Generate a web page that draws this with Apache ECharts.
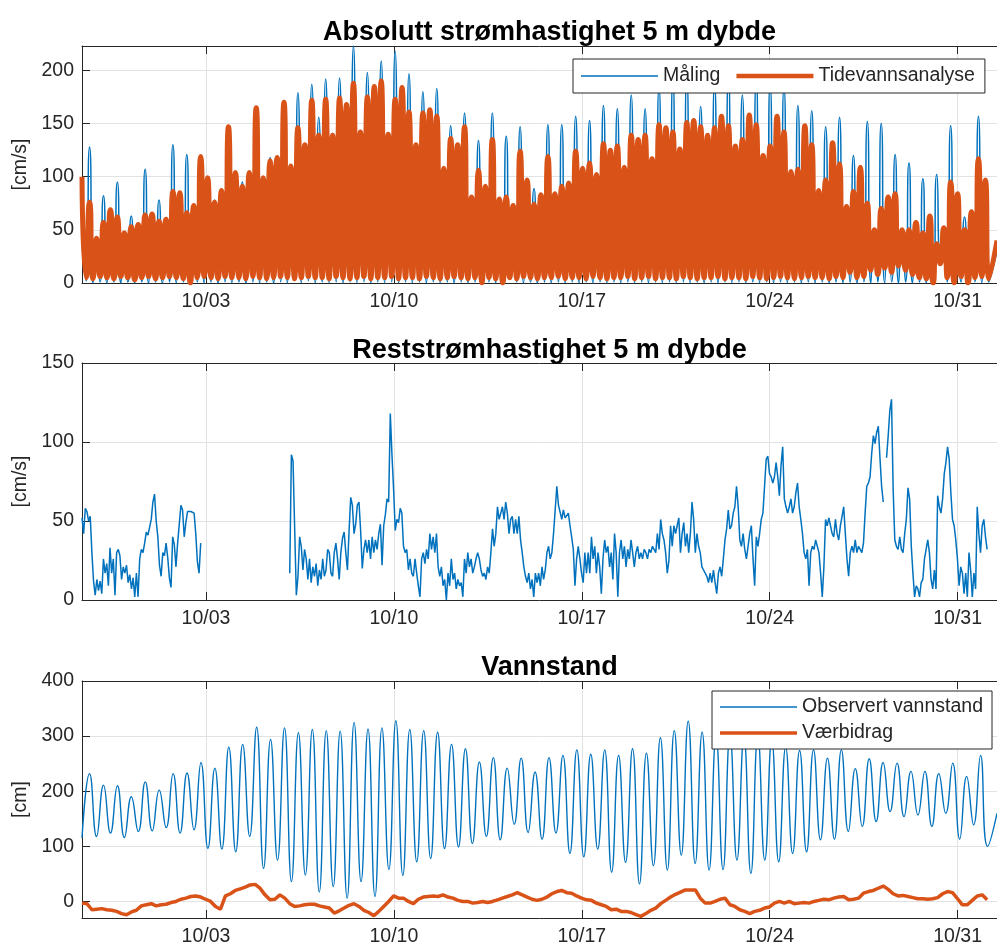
<!DOCTYPE html>
<html>
<head>
<meta charset="utf-8">
<script src="https://cdn.jsdelivr.net/npm/echarts@6/dist/echarts.min.js"></script>
<style>
  html, body { margin: 0; padding: 0; background: #ffffff; }
  #chart { width: 997px; height: 949px; }
</style>
</head>
<body>
<div id="chart"></div>
<script>
// ---------------------------------------------------------------------------
// Time base: first sample and the span of the record (hours)
// ---------------------------------------------------------------------------
const START = Date.UTC(2023, 8, 28, 9, 10);
const HOUR = 3600e3;
const SPAN_H = 818;

// Date ticks (weekly) shown on every panel
const tickDates = ['2023-10-03', '2023-10-10', '2023-10-17', '2023-10-24', '2023-10-31'];

// ---------------------------------------------------------------------------
// Panel 1: absolute current speed at 5 m, cm/s
// Semi-diurnal speed maxima (one value per flood/ebb maximum) and the slack minima
// ---------------------------------------------------------------------------
const speedPeakFirstH = 6.78;   // time of first maximum after start
const speedPeakStepH = 6.208;   // spacing of successive maxima

const tideStart = 100;
const tidePeaks = [
  76, 42, 57, 69, 62, 47, 53, 55, 64, 65,
  58, 60, 86, 85, 66, 73, 119, 99, 76, 87,
  147, 104, 91, 104, 165, 99, 115, 118, 170, 110,
  146, 130, 172, 139, 173, 139, 174, 168, 188, 142,
  175, 185, 190, 140, 173, 184, 161, 130, 160, 163,
  157, 108, 136, 130, 147, 81, 106, 91, 135, 79,
  81, 73, 124, 97, 74, 83, 119, 84, 91, 94,
  124, 108, 113, 102, 131, 125, 129, 109, 139, 135,
  139, 117, 149, 146, 142, 126, 151, 153, 147, 139,
  146, 157, 148, 129, 135, 158, 149, 120, 129, 157,
  142, 105, 107, 148, 130, 87, 97, 132, 112, 72,
  86, 109, 75, 50, 70, 81, 84, 50, 50, 57,
  47, 63, 37, 52, 95, 84, 50, 67, 117, 97
];
const tideLows = [
  5, 4, 6, 5, 4, 6, 5, 3, 5, 6,
  4, 5, 6, 5, 4, 0, 5, 6, 5, 4,
  6, 5, 5, 4, 6, 5, 4, 5, 6, 5,
  4, 5, 6, 5, 5, 4, 6, 5, 4, 5,
  6, 4, 5, 5, 6, 4, 5, 5, 4, 6,
  5, 4, 5, 6, 5, 4, 5, 0, 5, 4,
  0, 5, 4, 6, 5, 4, 5, 5, 6, 4,
  5, 5, 4, 6, 5, 4, 5, 5, 6, 4,
  5, 6, 4, 5, 5, 4, 6, 5, 4, 5,
  5, 6, 4, 5, 5, 4, 6, 5, 4, 5,
  6, 5, 4, 5, 6, 5, 5, 4, 6, 5,
  10, 5, 6, 12, 8, 14, 10, 16, 12, 8,
  5, 4, 0, 18, 5, 0, 6, 0, 5, 6,
  4
];
const tideEnd = 40;

const measStart = 45;
const measPeaks = [
  128, 40, 82, 60, 95, 42, 63, 50, 107, 58,
  78, 55, 130, 75, 121, 65, 118, 90, 78, 80,
  146, 95, 95, 95, 166, 92, 118, 108, 172, 100,
  179, 120, 187, 156, 192, 141, 193, 160, 223, 135,
  198, 175, 209, 132, 218, 175, 197, 122, 180, 155,
  183, 100, 148, 122, 160, 75, 134, 85, 160, 72,
  138, 68, 147, 90, 89, 76, 149, 78, 149, 86,
  157, 100, 153, 95, 167, 115, 164, 100, 177, 125,
  164, 108, 185, 136, 192, 118, 195, 142, 166, 130,
  188, 147, 195, 120, 177, 148, 192, 112, 188, 147,
  185, 98, 167, 138, 162, 80, 147, 122, 156, 66,
  120, 100, 152, 46, 150, 74, 121, 45, 113, 52,
  98, 58, 102, 47, 148, 78, 62, 62, 157, 90
];
const measLows = [
  2, 0, 1, 0, 1, 0, 1, 0, 1, 0,
  1, 0, 1, 0, 1, 0, 1, 0, 1, 0,
  1, 0, 1, 0, 1, 0, 1, 0, 1, 0,
  18, 0, 2, 0, 1, 0, 1, 0, 1, 0,
  1, 0, 1, 0, 1, 0, 1, 0, 1, 0,
  1, 0, 1, 0, 1, 0, 1, 0, 1, 0,
  25, 28, 1, 0, 1, 0, 1, 0, 1, 0,
  1, 0, 1, 0, 1, 0, 1, 0, 1, 0,
  1, 0, 1, 0, 1, 0, 1, 0, 1, 0,
  1, 0, 1, 0, 1, 0, 1, 0, 1, 0,
  1, 0, 1, 0, 1, 0, 1, 0, 1, 0,
  1, 0, 1, 0, 1, 0, 1, 0, 1, 0,
  1, 0, 1, 28, 1, 0, 1, 0, 1, 0,
  1
];
const measEnd = 30;

// ---------------------------------------------------------------------------
// Panel 2: residual current speed at 5 m, cm/s (sampled every 1.474 h, null = no data)
// ---------------------------------------------------------------------------
const residualStepH = 1.4739;
const residual = [
  52, 42, 58, 56, 50, 53, 30, 12, 3, 13,
  6, 12, 4, 26, 17, 23, 9, 33, 17, 26,
  3, 30, 32, 28, 13, 21, 17, 22, 11, 16,
  7, 14, 2, 17, 2, 26, 32, 30, 36, 43,
  41, 42, 51, 62, 67, 50, 40, 22, 15, 30,
  28, 36, 27, 14, 8, 40, 35, 21, 36, 48,
  60, 57, 40, 49, 56, 57, 56, 57, 55, 42,
  24, 17, 36,
  null, null, null, null, null, null, null, null, null, null,
  null, null, null, null, null, null, null, null, null, null,
  null, null, null, null, null, null, null, null, null, null,
  null, null, null, null, null, null, null, null, null, null,
  null, null, null, null, null, null, null, null, null, null,
  null, null, null,
  17, 92, 88, 45, 3, 15, 40, 34, 19, 32,
  26, 13, 26, 11, 21, 15, 23, 9, 19, 13,
  26, 15, 19, 32, 30, 17, 15, 30, 36,
  26, 13, 30, 39, 43, 30, 19, 44, 65, 60,
  42, 48, 60, 62, 44, 20, 32, 38, 30, 38,
  26, 40, 30, 38, 32, 42, 48, 22, 47, 54,
  64, 62, 118, 92, 70, 44, 51, 49, 58, 55,
  34, 30, 32, 19, 26, 17, 15, 26, 17, 9,
  2, 26, 30, 23, 32, 26, 42, 32, 40, 30,
  42, 21, 15, 21, 9, 13, 0, 17, 9, 26,
  13, 17, 7, 13, 9, 11, 2, 26, 17, 30,
  21, 26, 17, 21, 26, 30, 26, 19, 15, 17,
  13, 21, 17, 30, 45, 34, 42, 59, 51, 55,
  59, 51, 62, 55, 42, 51, 53, 42, 51, 42,
  53, 38, 30, 21, 15, 11, 17, 7, 13, 2,
  17, 11, 17, 9, 21, 13, 19, 30, 34, 26,
  30, 42, 57, 72, 60, 59, 51, 57, 52, 51,
  55, 47, 40, 32, 9, 26, 34, 26, 17, 11,
  30, 17, 30, 17, 40, 26, 34, 17, 30, 21,
  4, 26, 38, 30, 34, 21, 30, 13, 42, 30,
  2, 30, 38, 26, 34, 21, 32, 26, 38, 30,
  21, 30, 34, 26, 30, 26, 32, 30, 26, 32,
  30, 34,
  34, 30, 42, 32, 51, 42, 38, 30, 17, 25,
  47, 34, 47, 42, 47, 52, 30, 42, 49, 34,
  42, 30, 42, 62, 51, 30, 42, 34, 30, 21,
  19, 17, 15, 11, 17, 11, 19, 11, 4, 17,
  21, 15, 26, 38, 45, 57, 45, 47, 55, 59,
  72, 59, 38, 34, 42, 32, 26, 34, 42, 47,
  26, 9, 40, 34, 42, 51, 55, 72, 89, 91,
  80, 78, 74, 78, 87, 78, 66, 85, 97, 64,
  59, 55, 59, 64, 55, 59, 68, 74, 59, 51,
  42, 30, 26, 32, 9, 30, 34, 32, 38, 34,
  30, 17, 2, 21, 51, 47, 52, 51, 42, 40,
  51, 42, 38, 47, 53, 59, 42, 26, 15, 30,
  34, 30, 38, 30, 34, 32, 30, 36, 55, 72,
  74, 78, 93, 104, 99, 106, 110, 90, 72, 62,
  null, 90, 104, 120, 127, 70, 38, 34, 32, 40,
  32, 30, 42, 51, 71, 64, 34, 17, 2, 9,
  7, 2, 11, 13, 26, 32, 38, 30, 13, 7,
  19, 7, 66, 59, 55, 64, 80, 87, 97, 89,
  68, 51, 47, 38, 26, 9, 21, 17, 4, 17,
  2, 30, 19, 2, 17, 7, 59, 42, 30, 47,
  51, 40, 32
];

// ---------------------------------------------------------------------------
// Panel 3: observed water level (high/low waters) and weather contribution, cm
// ---------------------------------------------------------------------------
const waterFirstHighH = 6.78;
const waterStepH = 12.446;
const waterStart = 115;
const waterHighs = [
  232, 211, 210, 190, 217, 202, 232, 233, 252, 242,
  280, 285, 316, 294, 315, 306, 312, 310, 309, 325,
  313, 315, 328, 312, 310, 307, 285, 277, 253, 261,
  242, 260, 235, 261, 265, 275, 267, 275, 265, 277,
  269, 297, 310, 327, 307, 300, 302, 298, 300, 292,
  280, 274, 275, 260, 275, 241, 259, 252, 251, 236,
  236, 232, 251, 227, 265
];
const waterLows = [
  118, 124, 116, 127, 128, 134, 124, 130, 96, 95,
  90, 118, 60, 75, 36, 48, 17, 27, 6, 36,
  9, 58, 47, 72, 78, 96, 99, 105, 118, 112,
  140, 125, 113, 124, 87, 81, 95, 53, 71, 32,
  65, 57, 84, 69, 57, 58, 75, 51, 75, 72,
  87, 90, 112, 113, 127, 136, 145, 163, 154, 157,
  136, 160, 113, 139, 100
];
const waterEnd = 160;

const weatherStepH = 4.4217;
const weather = [
  -3, -4, -15, -14, -13, -15, -16, -18, -22, -24,
  -19, -16, -8, -6, -4, -8, -6, -5, -2, 0,
  4, 6, 9, 10, 8, 4, 0, -9, -14, 10,
  14, 20, 23, 26, 30, 31, 24, 12, 3, 4,
  12, 6, -4, -9, -8, -6, -5, -5, -8, -10,
  -12, -21, -17, -12, -7, -4, -9, -16, -20, -26,
  -18, -9, 0, 10, 6, 6, 0, -4, 4, 8,
  9, 10, 9, 12, 8, 6, 2, 0, 0, -3,
  -2, 0, -2, 0, 3, 6, 9, 12, 16, 12,
  8, 4, 2, 4, 8, 14, 18, 20, 16, 15,
  10, 6, 3, 2, -3, -6, -9, -15, -14, -18,
  -18, -20, -24, -27, -22, -16, -12, -4, 2, 8,
  13, 17, 21, 21, 21, 6, -3, -3, 0, 4,
  6, -6, -9, -15, -18, -22, -18, -16, -12, -10,
  -3, 0, -3, 0, -4, -3, -2, -3, 0, 2,
  4, 3, 6, 8, 9, 3, 4, 6, 15, 18,
  20, 24, 28, 22, 14, 10, 11, 9, 7, 5,
  5, 4, 5, 7, 14, 18, 16, 5, -6, -6,
  2, 10, 12, 3
];

// Axis ranges and tick labels
const speedTicks = [0, 50, 100, 150, 200];
const residualTicks = [0, 50, 100, 150];
const waterTicks = [0, 100, 200, 300, 400];

// ---------------------------------------------------------------------------
// Helpers to turn the tables into [time, value] pairs
// ---------------------------------------------------------------------------
const t = h => START + h * HOUR;

// start value, then (minimum, maximum) pairs, a final minimum and the last value
function alternating(startVal, lows, highs, endVal, firstH, stepH) {
  const pts = [[t(0), startVal]];
  for (let k = 0; k < highs.length; k++) {
    const th = firstH + k * stepH;
    pts.push([t(th - stepH / 2), lows[k]]);
    pts.push([t(th), highs[k]]);
  }
  pts.push([t(firstH + highs.length * stepH - stepH / 2), lows[highs.length]]);
  pts.push([t(SPAN_H), endVal]);
  return pts;
}

// water level: high water first, each followed by its low water
function highLow(startVal, highs, lows, endVal, firstH, stepH) {
  const pts = [[t(0), startVal]];
  for (let k = 0; k < highs.length; k++) {
    const th = firstH + k * stepH;
    pts.push([t(th), highs[k]]);
    pts.push([t(th + stepH / 2), lows[k]]);
  }
  pts.push([t(SPAN_H), endVal]);
  return pts;
}

function regular(values, stepH) {
  return values.map((v, i) => [t(i * stepH), v]);
}

// ---------------------------------------------------------------------------
// Styling
// ---------------------------------------------------------------------------
const FONT = '"Liberation Sans", Arial, Helvetica, sans-serif';
const FS = 19.5;
const INK = '#262626';
const GRID_LINE = '#e2e2e2';
const BLUE = '#0072BD';
const ORANGE = '#D95319';

const X_MIN = t(0);
const X_MAX = t(SPAN_H);
const xTickValues = tickDates.map(s => Date.parse(s + 'T00:00:00Z'));
const pad2 = n => (n < 10 ? '0' : '') + n;
const fmtDate = v => {
  const d = new Date(v);
  return pad2(d.getUTCMonth() + 1) + '/' + pad2(d.getUTCDate());
};

const panels = [
  { top: 46, yMin: 0, yMax: 223, ticks: speedTicks, unit: '[cm/s]', title: 'Absolutt strømhastighet 5 m dybde', titleTop: 14 },
  { top: 363, yMin: 0, yMax: 150, ticks: residualTicks, unit: '[cm/s]', title: 'Reststrømhastighet 5 m dybde', titleTop: 332.5 },
  { top: 681, yMin: -30, yMax: 400, ticks: waterTicks, unit: '[cm]', title: 'Vannstand', titleTop: 649 }
];
const PLOT_LEFT = 82, PLOT_W = 925, PLOT_H = 237;

const grid = panels.map(p => ({ left: PLOT_LEFT, top: p.top, width: PLOT_W, height: PLOT_H }));

const xAxis = [];
panels.forEach((p, gi) => {
  xAxis.push({
    type: 'value', gridIndex: gi, min: X_MIN, max: X_MAX, position: 'bottom',
    axisLine: { show: true, onZero: false, lineStyle: { color: INK, width: 1 } },
    axisTick: { show: true, inside: true, length: 8, customValues: xTickValues, lineStyle: { color: INK } },
    axisLabel: { show: true, customValues: xTickValues, formatter: fmtDate, margin: 9,
                 fontSize: FS, color: INK, fontFamily: FONT },
    splitLine: { show: true, lineStyle: { color: GRID_LINE, width: 1 } }
  });
  xAxis.push({
    type: 'value', gridIndex: gi, min: X_MIN, max: X_MAX, position: 'top',
    axisLine: { show: true, onZero: false, lineStyle: { color: INK, width: 1 } },
    axisTick: { show: true, inside: true, length: 8, customValues: xTickValues, lineStyle: { color: INK } },
    axisLabel: { show: false },
    splitLine: { show: false }
  });
});

const yAxis = panels.map((p, gi) => ({
  type: 'value', gridIndex: gi, min: p.yMin, max: p.yMax, position: 'left',
  axisLine: { show: true, onZero: false, lineStyle: { color: INK, width: 1 } },
  axisTick: { show: true, inside: true, length: 8, customValues: p.ticks, lineStyle: { color: INK } },
  axisLabel: { show: true, customValues: p.ticks, margin: 8, fontSize: FS, color: INK, fontFamily: FONT },
  splitLine: { show: true, lineStyle: { color: GRID_LINE, width: 1 } },
  name: p.unit, nameLocation: 'middle', nameGap: 48, nameRotate: 90,
  nameTextStyle: { fontSize: FS, color: INK, fontFamily: FONT }
}));

const title = panels.map(p => ({
  text: p.title, left: PLOT_LEFT + PLOT_W / 2, top: p.titleTop, textAlign: 'center',
  textStyle: { fontSize: 27, fontWeight: 'bold', color: '#000', fontFamily: FONT }
}));

const thinIcon = 'path://M0,0H77V1.5H0Z';
const thickIcon = 'path://M0,0H77V4.5H0Z';
const legendCommon = {
  itemWidth: 77, itemHeight: 14, symbolKeepAspect: true,
  borderColor: INK, borderWidth: 1, backgroundColor: '#ffffff',
  itemStyle: { borderWidth: 0 },
  textStyle: { fontSize: FS, color: INK, fontFamily: FONT },
  selectedMode: false
};

const lineBase = { type: 'line', showSymbol: false, symbol: 'none', silent: true,
                   emphasis: { disabled: true }, animation: false };

const option = {
  animation: false,
  backgroundColor: '#ffffff',
  title,
  grid,
  xAxis,
  yAxis,
  legend: [
    Object.assign({}, legendCommon, {
      left: 573, top: 59, orient: 'horizontal', itemGap: 16, padding: [7, 10, 7, 8],
      data: [{ name: 'Måling', icon: thinIcon }, { name: 'Tidevannsanalyse', icon: thickIcon }]
    }),
    Object.assign({}, legendCommon, {
      left: 712, top: 691, orient: 'vertical', itemGap: 6, padding: [6, 9, 6, 8],
      data: [{ name: 'Observert vannstand', icon: thinIcon }, { name: 'Værbidrag', icon: 'path://M0,0H77V3.5H0Z' }]
    })
  ],
  series: [
    Object.assign({}, lineBase, {
      name: 'Måling', xAxisIndex: 0, yAxisIndex: 0, smooth: 0.8, z: 2,
      data: alternating(measStart, measLows, measPeaks, measEnd, speedPeakFirstH, speedPeakStepH),
      itemStyle: { color: BLUE }, lineStyle: { color: BLUE, width: 1.5 }
    }),
    Object.assign({}, lineBase, {
      name: 'Tidevannsanalyse', xAxisIndex: 0, yAxisIndex: 0, smooth: 0.8, z: 3,
      data: alternating(tideStart, tideLows, tidePeaks, tideEnd, speedPeakFirstH, speedPeakStepH),
      itemStyle: { color: ORANGE }, lineStyle: { color: ORANGE, width: 5 }
    }),
    Object.assign({}, lineBase, {
      name: 'Reststrøm', xAxisIndex: 2, yAxisIndex: 1, connectNulls: false,
      data: regular(residual, residualStepH),
      itemStyle: { color: BLUE }, lineStyle: { color: BLUE, width: 1.5 }
    }),
    Object.assign({}, lineBase, {
      name: 'Observert vannstand', xAxisIndex: 4, yAxisIndex: 2, smooth: 0.5, z: 2,
      data: highLow(waterStart, waterHighs, waterLows, waterEnd, waterFirstHighH, waterStepH),
      itemStyle: { color: BLUE }, lineStyle: { color: BLUE, width: 1.4 }
    }),
    Object.assign({}, lineBase, {
      name: 'Værbidrag', xAxisIndex: 4, yAxisIndex: 2, z: 3,
      data: regular(weather, weatherStepH),
      itemStyle: { color: ORANGE }, lineStyle: { color: ORANGE, width: 3.5 }
    })
  ]
};

const chart = echarts.init(document.getElementById('chart'), null, { renderer: 'canvas' });
chart.setOption(option);
</script>
</body>
</html>
